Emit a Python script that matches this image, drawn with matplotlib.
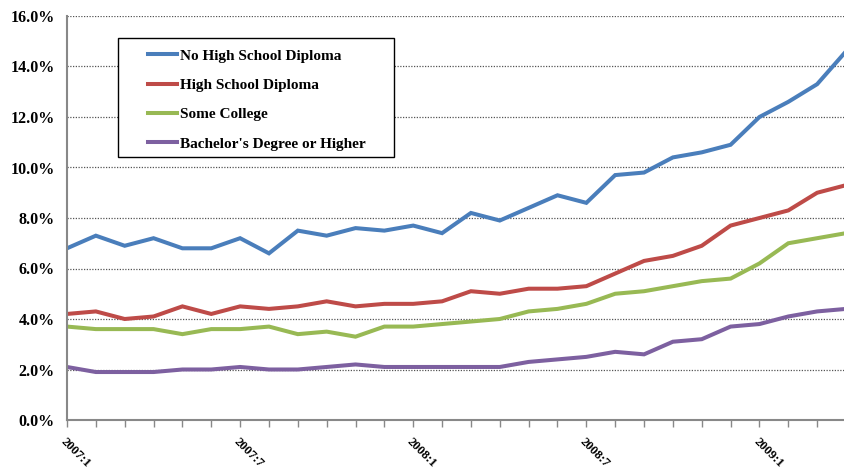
import matplotlib
matplotlib.use("Agg")
import matplotlib.pyplot as plt
from matplotlib.patches import Rectangle
from matplotlib.ticker import FuncFormatter, MultipleLocator

plt.rcParams["font.family"] = ["Liberation Serif", "DejaVu Serif"]
plt.rcParams["font.weight"] = "bold"

# Monthly periods 2007:1 .. 2009:4
years = [2007] * 12 + [2008] * 12 + [2009] * 4
months = list(range(1, 13)) + list(range(1, 13)) + list(range(1, 5))
periods = [f"{y}:{m}" for y, m in zip(years, months)]

no_hs = [6.8, 7.3, 6.9, 7.2, 6.8, 6.8, 7.2, 6.6, 7.5, 7.3, 7.6, 7.5, 7.7, 7.4,
         8.2, 7.9, 8.4, 8.9, 8.6, 9.7, 9.8, 10.4, 10.6, 10.9, 12.0, 12.6, 13.3, 14.6]
hs = [4.2, 4.3, 4.0, 4.1, 4.5, 4.2, 4.5, 4.4, 4.5, 4.7, 4.5, 4.6, 4.6, 4.7,
      5.1, 5.0, 5.2, 5.2, 5.3, 5.8, 6.3, 6.5, 6.9, 7.7, 8.0, 8.3, 9.0, 9.3]
some_college = [3.7, 3.6, 3.6, 3.6, 3.4, 3.6, 3.6, 3.7, 3.4, 3.5, 3.3, 3.7, 3.7, 3.8,
                3.9, 4.0, 4.3, 4.4, 4.6, 5.0, 5.1, 5.3, 5.5, 5.6, 6.2, 7.0, 7.2, 7.4]
bachelor = [2.1, 1.9, 1.9, 1.9, 2.0, 2.0, 2.1, 2.0, 2.0, 2.1, 2.2, 2.1, 2.1, 2.1,
            2.1, 2.1, 2.3, 2.4, 2.5, 2.7, 2.6, 3.1, 3.2, 3.7, 3.8, 4.1, 4.3, 4.4]

series_names = ["No High School Diploma", "High School Diploma",
                "Some College", "Bachelor's Degree or Higher"]
series_values = [no_hs, hs, some_college, bachelor]
colors = ["#4A7EBB", "#BE4B48", "#98B954", "#7D60A0"]

W, H = 845, 470
fig = plt.figure(figsize=(W / 100, H / 100), dpi=100)
ax = fig.add_axes([67 / W, 50 / H, 779 / W, 404 / H])

x = list(range(len(periods)))
for name, vals, c in zip(series_names, series_values, colors):
    ax.plot(x, vals, color=c, lw=2.9, label=name, solid_joinstyle="miter")

ax.set_xlim(0, len(periods) - 1)
ax.set_ylim(0, 16)
ax.yaxis.set_major_locator(MultipleLocator(2))
ax.yaxis.set_major_formatter(FuncFormatter(lambda v, p: f"{v:.1f}%"))
ax.tick_params(axis="y", length=0, pad=9, labelsize=11.5)

ax.set_xticks(x)
ax.set_xticklabels([p if (m - 1) % 6 == 0 else "" for p, m in zip(periods, months)],
                   rotation=-45, ha="left", va="top", rotation_mode="anchor",
                   fontsize=9.3)
ax.tick_params(axis="x", length=5, width=1, color="#888888", direction="out", pad=6)

for v in range(2, 17, 2):
    ax.axhline(v, color="#555555", lw=0.9, ls=(0, (1, 1.2)), zorder=0)

for s in ("top", "right"):
    ax.spines[s].set_visible(False)
for s in ("left", "bottom"):
    ax.spines[s].set_color("#888888")
    ax.spines[s].set_linewidth(1.5)

# legend box drawn in figure pixels, entries placed inside it
box = Rectangle((118 / W, 1 - 157 / H), (394 - 118) / W, (157 - 38) / H,
                transform=fig.transFigure, facecolor="white", edgecolor="black",
                lw=1.0, zorder=5)
fig.patches.append(box)

leg = fig.legend(loc="upper left", bbox_to_anchor=(148 / W, 1 - 49 / H),
                 frameon=False, fontsize=11, handlelength=1.9,
                 handletextpad=0.2, labelspacing=1.02,
                 borderpad=0, borderaxespad=0)
leg.set_zorder(6)
for t in leg.get_texts():
    t.set_fontweight("bold")

fig.savefig("out.png", dpi=100)
